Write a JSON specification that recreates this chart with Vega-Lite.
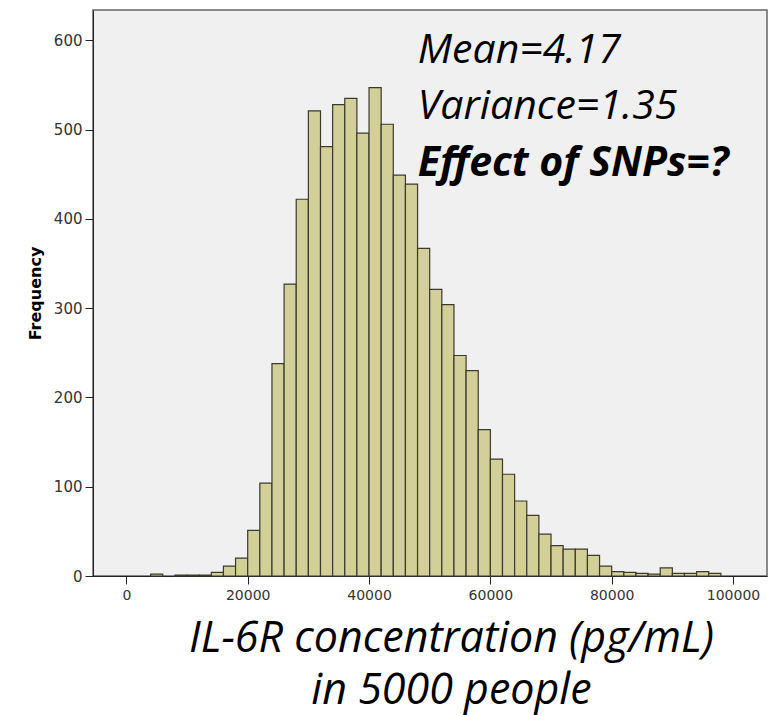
{
  "$schema": "https://vega.github.io/schema/vega-lite/v6.json",
  "autosize": "none",
  "width": 674,
  "height": 566,
  "padding": {"left": 93, "top": 10, "right": 8, "bottom": 139},
  "background": "white",
  "config": {
    "view": {"fill": "#f0f0f0", "stroke": "#666", "strokeWidth": 1.5}
  },
  "datasets": {
    "bins": [
      {"bin_start": 4000, "bin_end": 6000, "count": 2},
      {"bin_start": 8000, "bin_end": 10000, "count": 1},
      {"bin_start": 10000, "bin_end": 12000, "count": 1},
      {"bin_start": 12000, "bin_end": 14000, "count": 1},
      {"bin_start": 14000, "bin_end": 16000, "count": 4},
      {"bin_start": 16000, "bin_end": 18000, "count": 11},
      {"bin_start": 18000, "bin_end": 20000, "count": 20},
      {"bin_start": 20000, "bin_end": 22000, "count": 51},
      {"bin_start": 22000, "bin_end": 24000, "count": 104},
      {"bin_start": 24000, "bin_end": 26000, "count": 238},
      {"bin_start": 26000, "bin_end": 28000, "count": 327},
      {"bin_start": 28000, "bin_end": 30000, "count": 422},
      {"bin_start": 30000, "bin_end": 32000, "count": 521},
      {"bin_start": 32000, "bin_end": 34000, "count": 481},
      {"bin_start": 34000, "bin_end": 36000, "count": 528},
      {"bin_start": 36000, "bin_end": 38000, "count": 535},
      {"bin_start": 38000, "bin_end": 40000, "count": 496},
      {"bin_start": 40000, "bin_end": 42000, "count": 547},
      {"bin_start": 42000, "bin_end": 44000, "count": 506},
      {"bin_start": 44000, "bin_end": 46000, "count": 449},
      {"bin_start": 46000, "bin_end": 48000, "count": 439},
      {"bin_start": 48000, "bin_end": 50000, "count": 367},
      {"bin_start": 50000, "bin_end": 52000, "count": 321},
      {"bin_start": 52000, "bin_end": 54000, "count": 304},
      {"bin_start": 54000, "bin_end": 56000, "count": 247},
      {"bin_start": 56000, "bin_end": 58000, "count": 230},
      {"bin_start": 58000, "bin_end": 60000, "count": 164},
      {"bin_start": 60000, "bin_end": 62000, "count": 131},
      {"bin_start": 62000, "bin_end": 64000, "count": 114},
      {"bin_start": 64000, "bin_end": 66000, "count": 84},
      {"bin_start": 66000, "bin_end": 68000, "count": 68},
      {"bin_start": 68000, "bin_end": 70000, "count": 47},
      {"bin_start": 70000, "bin_end": 72000, "count": 34},
      {"bin_start": 72000, "bin_end": 74000, "count": 30},
      {"bin_start": 74000, "bin_end": 76000, "count": 30},
      {"bin_start": 76000, "bin_end": 78000, "count": 23},
      {"bin_start": 78000, "bin_end": 80000, "count": 11},
      {"bin_start": 80000, "bin_end": 82000, "count": 5},
      {"bin_start": 82000, "bin_end": 84000, "count": 4},
      {"bin_start": 84000, "bin_end": 86000, "count": 3},
      {"bin_start": 86000, "bin_end": 88000, "count": 2},
      {"bin_start": 88000, "bin_end": 90000, "count": 9},
      {"bin_start": 90000, "bin_end": 92000, "count": 3},
      {"bin_start": 92000, "bin_end": 94000, "count": 3},
      {"bin_start": 94000, "bin_end": 96000, "count": 5},
      {"bin_start": 96000, "bin_end": 98000, "count": 3}
    ],
    "stats": [
      {"label": "Mean=4.17", "ypos": 575},
      {"label": "Variance=1.35", "ypos": 512}
    ],
    "question": [
      {"label": "Effect of SNPs=?", "ypos": 448}
    ]
  },
  "layer": [
    {
      "data": {"name": "bins"},
      "mark": {"type": "rect", "fill": "#d3cf98", "stroke": "#3a3a2e", "strokeWidth": 1.2},
      "encoding": {
        "x": {
          "field": "bin_start",
          "type": "quantitative",
          "scale": {"domain": [-5500, 105600], "nice": false, "zero": false},
          "axis": {
            "values": [0, 20000, 40000, 60000, 80000, 100000],
            "format": "d",
            "grid": false,
            "domain": true,
            "domainColor": "#222",
            "tickColor": "#222",
            "tickSize": 8,
            "labelPadding": 4,
            "labelFont": "DejaVu Sans",
            "labelFontSize": 14,
            "labelColor": "#333",
            "title": ["IL-6R concentration (pg/mL)", "in 5000 people"],
            "titleFont": "Open Sans",
            "titleFontStyle": "italic",
            "titleFontWeight": "normal",
            "titleFontSize": 43,
            "titleLineHeight": 52,
            "titleColor": "black",
            "titleX": 358,
            "titlePadding": 15
          }
        },
        "x2": {"field": "bin_end"},
        "y": {
          "field": "count",
          "type": "quantitative",
          "scale": {"domain": [0, 634], "nice": false},
          "axis": {
            "values": [0, 100, 200, 300, 400, 500, 600],
            "grid": false,
            "domain": true,
            "domainColor": "#222",
            "tickColor": "#222",
            "tickSize": 8,
            "labelPadding": 3,
            "labelFont": "DejaVu Sans",
            "labelFontSize": 15,
            "labelColor": "#333",
            "title": "Frequency",
            "titleFont": "DejaVu Sans",
            "titleFontWeight": "bold",
            "titleFontSize": 16,
            "titleColor": "black",
            "titlePadding": 10
          }
        },
        "y2": {"datum": 0}
      }
    },
    {
      "data": {"name": "stats"},
      "mark": {"type": "text", "font": "Open Sans", "fontStyle": "italic", "fontSize": 41, "align": "left", "baseline": "alphabetic", "color": "black"},
      "encoding": {
        "x": {"datum": 48030, "type": "quantitative"},
        "y": {"field": "ypos", "type": "quantitative"},
        "text": {"field": "label"}
      }
    },
    {
      "data": {"name": "question"},
      "mark": {"type": "text", "font": "Open Sans", "fontStyle": "italic", "fontWeight": "bold", "fontSize": 41, "align": "left", "baseline": "alphabetic", "color": "black"},
      "encoding": {
        "x": {"datum": 48030, "type": "quantitative"},
        "y": {"field": "ypos", "type": "quantitative"},
        "text": {"field": "label"}
      }
    }
  ]
}
